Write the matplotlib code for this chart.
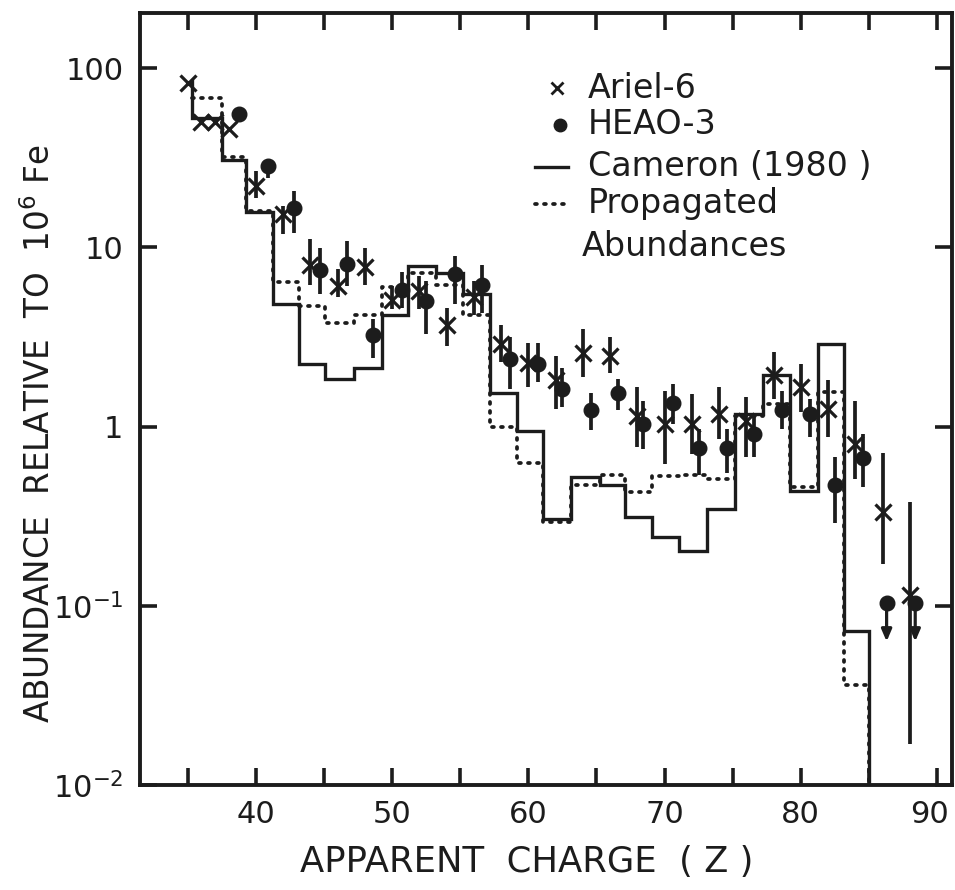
import numpy as np
import matplotlib
matplotlib.use("Agg")
from matplotlib import pyplot as plt
from matplotlib.lines import Line2D
from matplotlib import transforms
from matplotlib.ticker import FixedLocator, NullLocator, FixedFormatter

# Ariel-6 points (even charges), value and error bar ends
arielZ = [35, 36, 37, 38, 40, 42, 44, 46, 48, 50, 52, 54, 56, 58, 60, 62, 64, 66, 68, 70, 72, 74, 76, 78, 80, 82, 84, 86, 88]
arielVal = [82.5, 50, 50, 45.6, 21.9, 15.3, 8.0, 6.05, 7.8, 5.1, 5.7, 3.7, 5.3, 2.87, 2.25, 1.83, 2.56, 2.46, 1.14, 1.03, 1.03, 1.17, 1.07, 1.95, 1.67, 1.26, 0.80, 0.335, 0.115]
arielLo = [82.5, 50, 50, 45.6, 18.8, 11.8, 6.2, 5.3, 6.2, 4.5, 4.5, 2.8, 4.2, 2.28, 1.67, 1.26, 1.90, 1.98, 0.77, 0.62, 0.70, 0.85, 0.68, 1.42, 1.21, 0.88, 0.51, 0.172, 0.0169]
arielHi = [82.5, 50, 50, 45.6, 26.6, 16.9, 11.2, 7.6, 9.9, 6.05, 6.9, 4.6, 6.5, 3.67, 2.91, 2.46, 3.48, 3.18, 1.67, 1.57, 1.51, 1.67, 1.47, 2.62, 2.22, 1.83, 1.38, 0.71, 0.38]

# HEAO-3 points (charge pairs)
heaoZ = [38.8, 40.9, 42.8, 44.7, 46.7, 48.6, 50.7, 52.5, 54.6, 56.6, 58.65, 60.7, 62.5, 64.6, 66.6, 68.4, 70.6, 72.5, 74.6, 76.6, 78.6, 80.7, 82.5, 84.6]
heaoVal = [55.3, 28.4, 16.5, 7.5, 8.1, 3.26, 5.75, 5.0, 7.07, 6.2, 2.37, 2.22, 1.63, 1.23, 1.53, 1.04, 1.36, 0.76, 0.76, 0.91, 1.24, 1.17, 0.47, 0.67]
heaoLo = [55.3, 24.3, 12.0, 5.5, 6.05, 2.4, 4.6, 3.3, 4.8, 4.3, 1.63, 1.78, 1.29, 0.96, 1.24, 0.75, 1.03, 0.54, 0.55, 0.68, 0.97, 0.88, 0.29, 0.46]
heaoHi = [55.3, 30.3, 20.6, 9.9, 10.8, 3.96, 7.3, 6.5, 8.9, 8.0, 3.18, 2.91, 2.11, 1.53, 1.85, 1.38, 1.72, 0.97, 0.97, 1.14, 1.57, 1.43, 0.68, 0.91]
# HEAO-3 upper limits
heaoLimZ = [86.3, 88.4]
heaoLimVal = [0.103, 0.103]
heaoLimTip = [0.061, 0.061]

# Step curves: bin edges in Z and value per bin
binEdges = [35.3, 37.5, 39.3, 41.25, 43.2, 45.1, 47.2, 49.25, 51.2, 53.2, 55.2, 57.2, 59.2,
            61.1, 63.1, 65.25, 67.1, 69.1, 71.05, 73.1, 75.2, 77.2, 79.2, 81.25, 83.2, 85.0]
cameron = [52.6, 30.6, 15.7, 4.8, 2.22, 1.85, 2.11, 4.2, 7.9, 7.2, 5.5, 1.53, 0.94,
           0.306, 0.526, 0.474, 0.314, 0.243, 0.203, 0.348, 1.17, 1.95, 0.439, 2.87, 0.0725]
cameronStart = 84.6
propagated = [68, 32, 16, 6.4, 4.7, 3.8, 4.2, 6.0, 7.2, 6.2, 4.2, 1.0, 0.63,
              0.295, 0.47, 0.54, 0.43, 0.53, 0.54, 0.51, 1.14, 1.34, 0.46, 1.55, 0.036]
floorVal = 1e-3

xMajor = [40, 50, 60, 70, 80, 90]
xMinor = [35, 45, 55, 65, 75, 85]
yTicks = [1e-2, 1e-1, 1, 10, 100]
yTickLabels = ["$10^{-2}$", "$10^{-1}$", "1", "10", "100"]

ink = "#1c1c1c"
W, H = 955, 890


def step_path(edges, vals, start=None, end=None):
    xs, ys = [], []
    if start is not None:
        xs.append(edges[0]); ys.append(start)
    for i, v in enumerate(vals):
        xs += [edges[i], edges[i + 1]]
        ys += [v, v]
    if end is not None:
        xs.append(edges[-1]); ys.append(end)
    return xs, ys


fig = plt.figure(figsize=(W / 100, H / 100), dpi=100)
plt.rcParams["font.family"] = "DejaVu Sans"
ax = fig.add_axes([140 / W, 1 - 785 / H, 812 / W, 772 / H])
ax.set_yscale("log")
ax.set_xlim(31.5, 91.1)
ax.set_ylim(0.01, 203)

# Cameron (1980) solid steps
cx, cy = step_path(binEdges, cameron, start=cameronStart, end=floorVal)
ax.plot(cx, cy, color=ink, lw=2.4, solid_joinstyle="miter")
# Propagated abundances dotted steps
px_, py_ = step_path(binEdges, propagated, end=floorVal)
ax.plot(px_, py_, color=ink, lw=2.7, linestyle=(0, (0.5, 1.9)), dash_capstyle="round")

# Ariel-6
aVal = np.array(arielVal)
ax.errorbar(arielZ, aVal, yerr=[aVal - np.array(arielLo), np.array(arielHi) - aVal],
            fmt="x", color=ink, ms=11, mew=2.3, elinewidth=2.7, capsize=0)
# HEAO-3
hVal = np.array(heaoVal)
ax.errorbar(heaoZ, hVal, yerr=[hVal - np.array(heaoLo), np.array(heaoHi) - hVal],
            fmt="o", color=ink, ms=10.5, elinewidth=2.7, capsize=0)
ax.plot(heaoLimZ, heaoLimVal, "o", color=ink, ms=10.5)
for z, v, t in zip(heaoLimZ, heaoLimVal, heaoLimTip):
    ax.annotate("", xy=(z, t), xytext=(z, v),
                arrowprops=dict(arrowstyle="-|>,head_length=0.7,head_width=0.3", color=ink, lw=2.3))

# axes styling
for s in ax.spines.values():
    s.set_linewidth(2.8)
    s.set_color(ink)
ax.xaxis.set_major_locator(FixedLocator(xMajor))
ax.xaxis.set_minor_locator(FixedLocator(xMinor))
ax.yaxis.set_major_locator(FixedLocator(yTicks))
ax.yaxis.set_major_formatter(FixedFormatter(yTickLabels))
ax.yaxis.set_minor_locator(NullLocator())
ax.tick_params(which="both", direction="in", top=True, right=True, length=12, width=2.6, color=ink)
ax.tick_params(axis="x", which="major", labelsize=22, pad=11, labelcolor=ink)
ax.tick_params(axis="y", which="major", labelsize=22, pad=12, labelcolor=ink)
# the last x label sits a little left of its tick, as on the original
lastLabel = ax.get_xticklabels()[-1]
lastLabel.set_transform(lastLabel.get_transform() + transforms.ScaledTranslation(-8 / 100, 0, fig.dpi_scale_trans))

fig.text(300 / W, 1 - 862 / H, "APPARENT  CHARGE  ( Z )", fontsize=25.5, color=ink, va="center", ha="left")
fig.text(40 / W, 1 - 434 / H, "ABUNDANCE  RELATIVE  TO  10$^6$ Fe", fontsize=23.5, color=ink,
         rotation=90, va="center", ha="center")

# legend drawn in pixel space
lg = fig.add_axes([0, 0, 1, 1], facecolor="none")
lg.set_xlim(0, W)
lg.set_ylim(H, 0)
lg.axis("off")
lg.plot([557], [88], "x", color=ink, ms=8, mew=2)
lg.plot([560], [125], "o", color=ink, ms=9)
lg.add_line(Line2D([535, 568], [167, 167], color=ink, lw=2.4))
lg.add_line(Line2D([535, 568], [204, 204], color=ink, lw=2.7, linestyle=(0, (0.5, 1.9)), dash_capstyle="round"))
legendRows = [("Ariel-6", 588, 88), ("HEAO-3", 588, 125), ("Cameron (1980 )", 588, 167),
              ("Propagated", 588, 204), ("Abundances", 582, 247)]
for label, x0, y0 in legendRows:
    lg.text(x0, y0, label, fontsize=24, color=ink, va="center", ha="left")

fig.savefig("out.png", dpi=100, facecolor="white")
